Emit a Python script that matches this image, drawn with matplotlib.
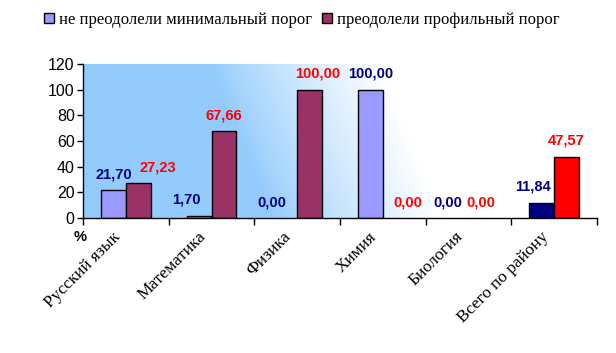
import matplotlib.pyplot as plt
import matplotlib.transforms as mtransforms
import numpy as np
from matplotlib.patches import Patch

# data
subjects = ['Русский язык', 'Математика', 'Физика', 'Химия', 'Биология', 'Всего по району']
not_min = [21.70, 1.70, 0.00, 100.00, 0.00, 11.84]
passed_prof = [27.23, 67.66, 100.00, 0.00, 0.00, 47.57]
series_names = ['не преодолели минимальный порог', 'преодолели профильный порог']
yticks = [0, 20, 40, 60, 80, 100, 120]

# label nudges (points), to mimic the original layout
dx1 = [0, -9, -9, 0, -6, -6]
dx2 = [14, 0, 6, 9, 0, 0]

c1 = ['#9999FF'] * 5 + ['#000080']
c2 = ['#993366'] * 5 + ['#FF0000']

fig = plt.figure(figsize=(6.16, 3.53), dpi=100)
ax = fig.add_axes([83 / 616, 1 - 218 / 353, 514 / 616, 154 / 353])

# gradient background, blue on the left fading to white
gx, gy = np.meshgrid(np.linspace(0, 1, 300), np.linspace(0, 1, 100))
t = np.clip((gx + 0.12 * gy - 0.37) / 0.33, 0, 1) ** 0.85
blue = np.array([0.58, 0.80, 0.99])
img = blue[None, None, :] * (1 - t[..., None]) + np.ones(3)[None, None, :] * t[..., None]
ax.imshow(img, extent=[0, 1, 0, 1], origin='lower', aspect='auto',
          transform=ax.transAxes, zorder=0)

x = np.arange(len(subjects))
w = 0.29
e1 = ['black' if v > 0 else 'none' for v in not_min]
e2 = ['black' if v > 0 else 'none' for v in passed_prof]
ax.bar(x - w / 2, not_min, w, color=c1, edgecolor=e1, linewidth=1, zorder=2)
ax.bar(x + w / 2, passed_prof, w, color=c2, edgecolor=e2, linewidth=1, zorder=2)

for i in range(len(subjects)):
    ax.annotate(f'{not_min[i]:.2f}'.replace('.', ','), (x[i] - w / 2, not_min[i]),
                xytext=(dx1[i], 11.5), textcoords='offset points', ha='center', va='center',
                color='#000080', fontsize=10.5, fontweight='bold', family='Liberation Sans', zorder=3)
    ax.annotate(f'{passed_prof[i]:.2f}'.replace('.', ','), (x[i] + w / 2, passed_prof[i]),
                xytext=(dx2[i], 11.5), textcoords='offset points', ha='center', va='center',
                color='#FF0000', fontsize=10.5, fontweight='bold', family='Liberation Sans', zorder=3)

ax.set_xlim(-0.5, len(subjects) - 0.5)
ax.set_ylim(0, 120)
ax.set_yticks(yticks)
ax.set_yticklabels([str(v) for v in yticks], family='Liberation Sans', fontsize=11.5)
ax.tick_params(axis='y', length=4, width=1, pad=2)

ax.set_xticks(np.arange(len(subjects) + 1) - 0.5)
ax.set_xticklabels([])
ax.set_xticks(x, minor=True)
ax.set_xticklabels(subjects, minor=True, rotation=45, ha='right', va='center',
                   rotation_mode='anchor', family='Liberation Serif', fontsize=12.5)
ax.tick_params(axis='x', which='major', length=5, width=1)
ax.tick_params(axis='x', which='minor', length=0, pad=12)
shift = mtransforms.ScaledTranslation(-6 / 72, 0, fig.dpi_scale_trans)
for lbl in ax.get_xticklabels(minor=True):
    lbl.set_transform(lbl.get_transform() + shift)

for s in ['top', 'right']:
    ax.spines[s].set_visible(False)
ax.spines['left'].set_linewidth(1)
ax.spines['bottom'].set_linewidth(1)

fig.text(80 / 616, 1 - 237 / 353, '%', ha='center', va='center',
         fontsize=10.5, fontweight='bold', family='Liberation Sans')

handles = [Patch(facecolor='#9999FF', edgecolor='black'),
           Patch(facecolor='#993366', edgecolor='black')]
fig.legend(handles, series_names, loc='center', bbox_to_anchor=(302 / 616, 1 - 20 / 353),
           ncol=2, frameon=False, prop={'family': 'Liberation Serif', 'size': 12},
           handlelength=0.6, handleheight=0.6, handletextpad=0.3, columnspacing=0.6)

fig.savefig('out.png', dpi=100)
